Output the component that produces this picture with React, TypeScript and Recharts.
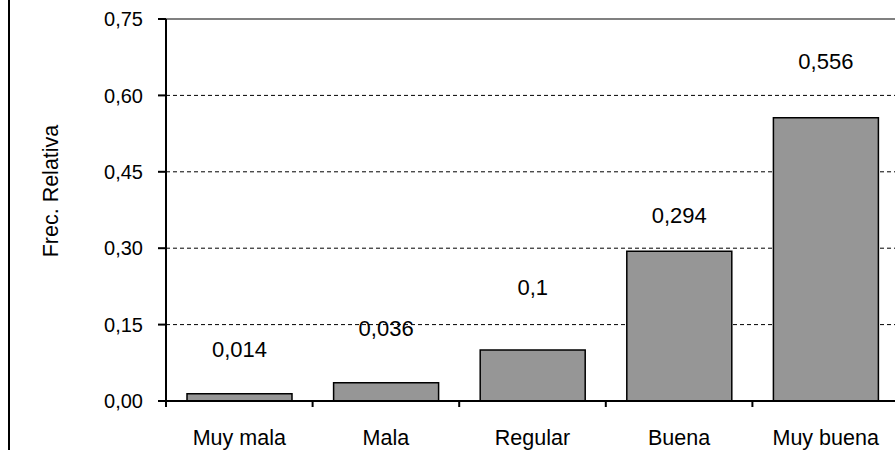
import React from 'react';
import { BarChart, Bar, XAxis, YAxis, CartesianGrid, ReferenceLine, LabelList } from 'recharts';

const categories = ['Muy mala', 'Mala', 'Regular', 'Buena', 'Muy buena'];
const frecRelativa = [0.014, 0.036, 0.1, 0.294, 0.556];
const yTicks = [0, 0.15, 0.3, 0.45, 0.6, 0.75];

const data = categories.map((c, i) => ({ name: c, value: frecRelativa[i] }));

// style: label lift above bar top (px), as placed in the reference
const labelLift = [44, 54, 63, 36, 56];
const FONT = '"Liberation Sans", Arial, sans-serif';
const X_TICK_MARGIN = 29;

const fmtComma = (v: number) => String(v).replace('.', ',');

const XTick = (props: any) => {
  const { x, y, payload, index } = props;
  const off = payload.offset || 0;
  const axisY = y - X_TICK_MARGIN;
  return (
    <g>
      <line x1={x - off} y1={axisY} x2={x - off} y2={axisY + 6} stroke="#000" strokeWidth={2} />
      {index === categories.length - 1 && (
        <line x1={x + off} y1={axisY} x2={x + off} y2={axisY + 6} stroke="#000" strokeWidth={2} />
      )}
      <text x={x} y={y} dy="0.72em" textAnchor="middle" fontSize={21.5} fontFamily={FONT} fill="#000">
        {payload.value}
      </text>
    </g>
  );
};

const ValueLabel = (props: any) => {
  const { x, y, width, value, index } = props;
  return (
    <text
      x={x + width / 2}
      y={y - labelLift[index]}
      textAnchor="middle"
      dominantBaseline="central"
      fontSize={22}
      fontFamily={FONT}
      fill="#000"
    >
      {fmtComma(value)}
    </text>
  );
};

const YLabel = () => (
  <text
    x={51}
    y={191}
    transform="rotate(-90, 51, 191)"
    textAnchor="middle"
    dominantBaseline="central"
    fontSize={21.5}
    fontFamily={FONT}
    fill="#000"
  >
    Frec. Relativa
  </text>
);

export default function App() {
  return (
    <div style={{ position: 'absolute', left: 0, top: 0, width: 895, height: 450, overflow: 'hidden', background: '#fff' }}>
      <div style={{ position: 'absolute', left: 8, top: 0, width: 0, height: 450, borderLeft: '2px solid #000' }} />
      <div style={{ position: 'absolute', left: 0, top: 0 }}>
        <BarChart width={900} height={450} data={data} margin={{ top: 19, right: 1, bottom: 0, left: 0 }}>
          <CartesianGrid vertical={false} stroke="#000" strokeDasharray="4 3" strokeWidth={1} />
          <ReferenceLine y={0.75} stroke="#808080" strokeWidth={2} />
          <XAxis
            dataKey="name"
            height={49}
            axisLine={{ stroke: '#000', strokeWidth: 2 }}
            tickLine={false}
            tickSize={0}
            tickMargin={X_TICK_MARGIN}
            tick={<XTick />}
            interval={0}
          />
          <YAxis
            width={166}
            domain={[0, 0.75]}
            ticks={yTicks}
            interval={0}
            tickFormatter={(v: number) => v.toFixed(2).replace('.', ',')}
            axisLine={{ stroke: '#000', strokeWidth: 2 }}
            tickLine={{ stroke: '#000', strokeWidth: 2 }}
            tickSize={8}
            tickMargin={15}
            tick={{ fontSize: 20, fontFamily: FONT, fill: '#000' }}
            label={<YLabel />}
          />
          <Bar dataKey="value" fill="#969696" stroke="#000" strokeWidth={1.5} barSize={105} isAnimationActive={false}>
            <LabelList dataKey="value" content={<ValueLabel />} />
          </Bar>
        </BarChart>
      </div>
    </div>
  );
}
